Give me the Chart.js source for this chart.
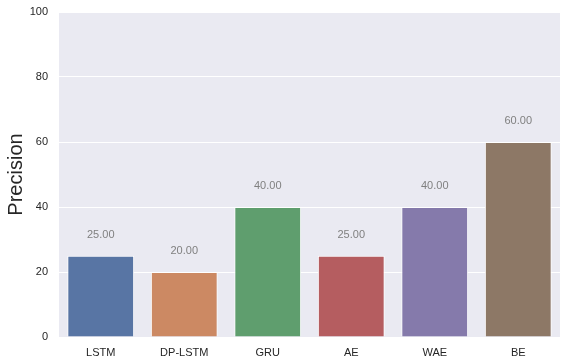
<!DOCTYPE html>
<html>
<head>
<meta charset="utf-8">
<script src="https://cdn.jsdelivr.net/npm/chart.js@4"></script>
<style>
  html, body { margin: 0; padding: 0; background: #ffffff; }
  #wrap { width: 567px; height: 364px; }
</style>
</head>
<body>
<div id="wrap"><canvas id="precisionChart"></canvas></div>
<script>
// Chart data
const models = ['LSTM', 'DP-LSTM', 'GRU', 'AE', 'WAE', 'BE'];
const precision = [25, 20, 40, 25, 40, 60];
const barColors = ['#5875a4', '#cc8963', '#5f9e6e', '#b55d60', '#857aab', '#8d7866'];
const yTicks = [0, 20, 40, 60, 80, 100];

// seaborn-style grey plot background
const plotBackground = {
    id: 'plotBackground',
    beforeDraw(chart) {
        const { ctx, chartArea: a } = chart;
        ctx.save();
        ctx.fillStyle = '#eaeaf2';
        ctx.fillRect(a.left, a.top, a.right - a.left, a.bottom - a.top);
        ctx.restore();
    }
};

// value labels above each bar
const barLabels = {
    id: 'barLabels',
    afterDatasetsDraw(chart) {
        const ctx = chart.ctx;
        const meta = chart.getDatasetMeta(0);
        ctx.save();
        ctx.font = '11px "Liberation Sans", Arial, sans-serif';
        ctx.fillStyle = '#808080';
        ctx.textAlign = 'center';
        ctx.textBaseline = 'middle';
        meta.data.forEach((bar, i) => {
            ctx.fillText(precision[i].toFixed(2), bar.x, bar.y - 21);
        });
        ctx.restore();
    }
};

Chart.defaults.font.family = '"Liberation Sans", Arial, sans-serif';
Chart.defaults.color = '#262626';

new Chart(document.getElementById('precisionChart'), {
    type: 'bar',
    data: {
        labels: models,
        datasets: [{
            data: precision,
            backgroundColor: barColors,
            borderColor: '#ffffff',
            borderWidth: 1,
            categoryPercentage: 1.0,
            barPercentage: 0.8
        }]
    },
    options: {
        responsive: true,
        maintainAspectRatio: false,
        animation: false,
        devicePixelRatio: 1,
        layout: { padding: { top: 12, right: 7, left: 0, bottom: 0 } },
        plugins: {
            legend: { display: false },
            tooltip: { enabled: false }
        },
        scales: {
            x: {
                grid: { display: false, drawTicks: false },
                border: { display: false },
                ticks: { font: { size: 11 }, padding: 9, color: '#262626' },
                afterFit: (s) => { s.height = 27; s.paddingLeft = 0; s.paddingRight = 0; }
            },
            y: {
                min: 0,
                max: 100,
                afterBuildTicks: (s) => { s.ticks = yTicks.map(v => ({ value: v })); },
                grid: { color: '#ffffff', lineWidth: 1, drawTicks: false },
                border: { display: false },
                ticks: { font: { size: 11 }, padding: 11, color: '#262626' },
                title: {
                    display: true,
                    text: 'Precision',
                    font: { size: 20 },
                    color: '#262626',
                    padding: { top: 4, bottom: 0 }
                },
                afterFit: (s) => { s.width = 59; s.paddingTop = 0; s.paddingBottom = 0; }
            }
        }
    },
    plugins: [plotBackground, barLabels]
});
</script>
</body>
</html>
